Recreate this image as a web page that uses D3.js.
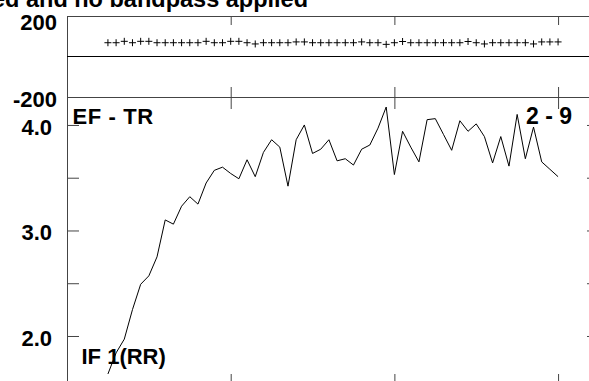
<!DOCTYPE html>
<html>
<head>
<meta charset="utf-8">
<script src="https://cdn.jsdelivr.net/npm/d3@7"></script>
<style>
  html, body { margin: 0; padding: 0; background: #fff; }
  svg { display: block; }
  text { font-family: "Liberation Sans", Arial, Helvetica, sans-serif; font-weight: bold; fill: #000; }
</style>
</head>
<body>
<svg id="chart" width="589" height="381"></svg>
<script>
// Sample indices shared by both panels
const frames = d3.range(5, 61);

// Upper panel: offset markers
const offsetValues = [
  68, 68, 75, 68, 75, 75, 68, 68, 68, 68, 68, 68, 75, 68, 68,
  75, 75, 68, 62, 68, 68, 68, 68, 72, 72, 68, 68, 68, 68, 68,
  68, 72, 68, 68, 60, 68, 74, 68, 68, 68, 68, 68, 68, 68, 74,
  68, 62, 68, 68, 68, 68, 68, 62, 72, 72, 72
];

// Lower panel: IF 1(RR) trace
const ifValues = [
  1.64, 1.84, 1.97, 2.25, 2.49, 2.57, 2.75, 3.10, 3.06, 3.23,
  3.32, 3.25, 3.45, 3.57, 3.60, 3.54, 3.49, 3.67, 3.51, 3.74,
  3.86, 3.79, 3.42, 3.86, 4.00, 3.73, 3.77, 3.86, 3.66, 3.68,
  3.62, 3.77, 3.81, 3.97, 4.17, 3.53, 3.94, 3.79, 3.65, 4.05,
  4.06, 3.91, 3.76, 4.04, 3.94, 4.01, 3.89, 3.64, 3.89, 3.61,
  4.10, 3.68, 3.98, 3.65, 3.58, 3.51
];

// Tick values and labels
const xTicks = [0, 20, 40, 60];
const topYTicks = [-200, 200];
const bottomYTicks = [2.0, 2.5, 3.0, 3.5, 4.0];
const bottomYLabels = [2.0, 3.0, 4.0];

const titleText = "ed and no bandpass applied";
const topLabel = "EF - TR";
const rangeLabel = "2 - 9";
const seriesLabel = "IF 1(RR)";

const svg = d3.select("#chart");
const axisColor = "#444";

const x = d3.scaleLinear().domain([0, 65]).range([67, 599]);
const yTop = d3.scaleLinear().domain([-200, 200]).range([97, 16]);
const yBot = d3.scaleLinear().domain([1.526, 4.265]).range([386, 97]);

function styleAxis(g) {
  g.selectAll("path.domain").attr("stroke", axisColor).attr("stroke-width", 1);
  g.selectAll(".tick line").attr("stroke", axisColor).attr("stroke-width", 1);
  g.selectAll(".tick text")
    .attr("font-family", "Liberation Sans, Arial, sans-serif")
    .attr("font-weight", "bold")
    .attr("font-size", 22)
    .attr("fill", "#000");
}

// ---- Upper panel frame ----
svg.append("g").attr("transform", `translate(0,${yTop(200)})`)
  .call(d3.axisTop(x).tickValues(xTicks).tickSizeInner(-9).tickSizeOuter(0).tickFormat(""))
  .call(styleAxis);
svg.append("g").attr("transform", `translate(0,${yTop(-200)})`)
  .call(d3.axisBottom(x).tickValues(xTicks).tickSizeInner(-10).tickSizeOuter(0).tickFormat(""))
  .call(styleAxis);
const topLeft = svg.append("g").attr("transform", `translate(${x(0)},0)`)
  .call(d3.axisLeft(yTop).tickValues(topYTicks).tickSizeInner(-10).tickSizeOuter(0)
    .tickPadding(10).tickFormat(d => String(d)))
  .call(styleAxis);
topLeft.selectAll(".tick text").attr("dy", "0.45em");
topLeft.selectAll(".tick").filter(d => d === 200).select("text").attr("dy", "0.62em");

// zero line
svg.append("line")
  .attr("x1", x(0)).attr("x2", x(65))
  .attr("y1", yTop(0)).attr("y2", yTop(0))
  .attr("stroke", "#000").attr("stroke-width", 1);

// offset markers
svg.append("g").selectAll("path.mark")
  .data(frames.map((f, i) => ({ f, v: offsetValues[i] })))
  .join("path")
  .attr("class", "mark")
  .attr("transform", d => `translate(${x(d.f)},${yTop(d.v)})`)
  .attr("d", "M-3.5,0H3.5M0,-3.5V3.5")
  .attr("fill", "none")
  .attr("stroke", "#000")
  .attr("stroke-width", 1);

// ---- Lower panel frame ----
svg.append("g").attr("transform", `translate(0,${yBot.range()[1]})`)
  .call(d3.axisTop(x).tickValues(xTicks).tickSizeInner(-12).tickSizeOuter(0).tickFormat(""))
  .call(g => g.select("path.domain").remove())
  .call(styleAxis);
svg.append("g").attr("transform", `translate(0,${yBot.range()[0]})`)
  .call(d3.axisBottom(x).tickValues(xTicks).tickSizeInner(-12).tickSizeOuter(0).tickFormat(""))
  .call(styleAxis);
const botLeft = svg.append("g").attr("transform", `translate(${x(0)},0)`)
  .call(d3.axisLeft(yBot).tickValues(bottomYTicks).tickSizeInner(-12).tickSizeOuter(0)
    .tickPadding(15)
    .tickFormat(d => bottomYLabels.includes(d) ? d.toFixed(1) : ""))
  .call(styleAxis);
botLeft.selectAll(".tick text").attr("dy", "0.42em");
svg.append("g").attr("transform", `translate(${x(65)},0)`)
  .call(d3.axisRight(yBot).tickValues(bottomYTicks).tickSizeInner(-12).tickSizeOuter(0).tickFormat(""))
  .call(styleAxis);

// IF trace
const line = d3.line().x((d, i) => x(frames[i])).y(d => yBot(d));
svg.append("path")
  .datum(ifValues)
  .attr("d", line)
  .attr("fill", "none")
  .attr("stroke", "#000")
  .attr("stroke-width", 1)
  .attr("stroke-linejoin", "miter");

// ---- Text ----
svg.append("text").attr("x", 308).attr("y", 7)
  .attr("text-anchor", "end").attr("font-size", 23.5).text(titleText);
svg.append("text").attr("x", 72.5).attr("y", 124.3)
  .attr("font-size", 22).attr("letter-spacing", 0.6).text(topLabel);
svg.append("text").attr("x", 572).attr("y", 124.3)
  .attr("text-anchor", "end").attr("font-size", 23).text(rangeLabel);
svg.append("text").attr("x", 81.5).attr("y", 364)
  .attr("font-size", 22).text(seriesLabel);
</script>
</body>
</html>
